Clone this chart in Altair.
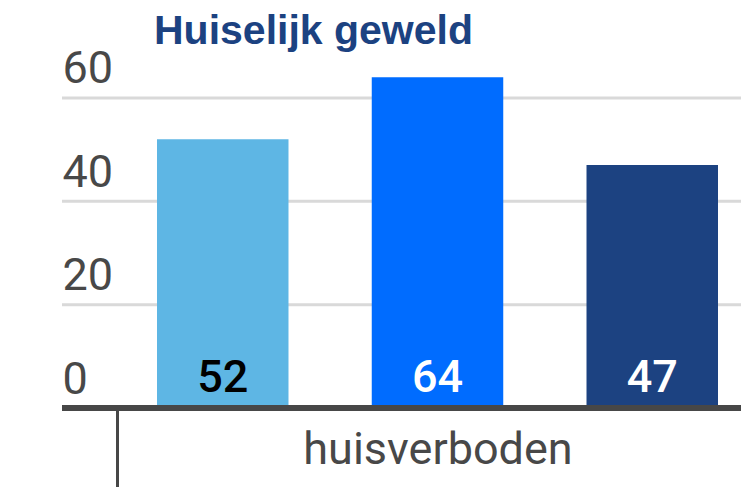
import altair as alt
import pandas as pd

category = ["huisverboden"]
series = ["Reeks 1", "Reeks 2", "Reeks 3"]
values = [52, 64, 47]
bar_colors = ["#5eb6e4", "#006cff", "#1c4281"]
label_colors = ["#000000", "#ffffff", "#ffffff"]
y_ticks = [0, 20, 40, 60]

df = pd.DataFrame({
    "categorie": category * len(series),
    "reeks": series,
    "waarde": values,
})
grid_df = pd.DataFrame({"waarde": y_ticks[1:]})

x_enc = alt.X(
    "categorie:N",
    title=None,
    scale=alt.Scale(range=[54.5, 696.5], paddingInner=0, paddingOuter=0),
    axis=alt.Axis(
        domain=False,
        grid=False,
        tickBand="extent",
        tickColor="#474747",
        tickWidth=3,
        tickSize=79,
        labelFont="Roboto",
        labelFontSize=45,
        labelColor="#484848",
        labelPadding=-24,
        labelBaseline="alphabetic",
        labelAngle=0,
        labelLimit=2000,
    ),
)
xoff_enc = alt.XOffset(
    "reeks:N", sort=series,
    scale=alt.Scale(paddingInner=0.3877, paddingOuter=0.1886),
)
y_scale = alt.Scale(domain=[0, 75.46], nice=False)
y_axis = alt.Axis(
    values=y_ticks,
    domain=False,
    ticks=False,
    grid=False,
    labelAlign="left",
    labelPadding=0,
    labelBaseline="alphabetic",
    labelOffset=-15,
    labelFont="Roboto",
    labelFontSize=45,
    labelColor="#484848",
    labelFlush=False,
    labelOverlap=False,
)
y_enc = alt.Y("waarde:Q", title=None, scale=y_scale, axis=y_axis)

grid = alt.Chart(grid_df).mark_rule(color="#d9d9d9", strokeWidth=3).encode(
    y=y_enc,
)

bars = alt.Chart(df).mark_bar().encode(
    x=x_enc,
    xOffset=xoff_enc,
    y=y_enc,
    color=alt.Color("reeks:N", sort=series,
                    scale=alt.Scale(domain=series, range=bar_colors), legend=None),
)

baseline = alt.Chart(df).mark_rule(color="#474747", strokeWidth=6).encode(
    y=alt.datum(0),
)

labels = alt.Chart(df).mark_text(
    font="Roboto", fontSize=45, fontWeight=500, baseline="alphabetic", dy=-16
).encode(
    x=x_enc,
    xOffset=xoff_enc,
    y=alt.datum(0),
    text=alt.Text("waarde:Q"),
    color=alt.Color("reeks:N", sort=series,
                    scale=alt.Scale(domain=series, range=label_colors), legend=None),
)

chart = alt.layer(grid, bars, baseline, labels).resolve_scale(color="independent").properties(
    width=679,
    height=390,
    autosize=alt.AutoSizeParams(type="none"),
    padding={"left": 54, "top": 10, "right": 0, "bottom": 79},
    title=alt.TitleParams(
        "Huiselijk geweld",
        font="Liberation Sans",
        fontSize=41,
        fontWeight="bold",
        color="#1c4281",
        anchor="start",
        frame="group",
        dx=92,
        dy=67,
        offset=0,
        baseline="alphabetic",
        limit=0,
    ),
).configure_view(stroke="transparent")

chart.save("out.html", embed_options={"renderer": "svg", "actions": False})
